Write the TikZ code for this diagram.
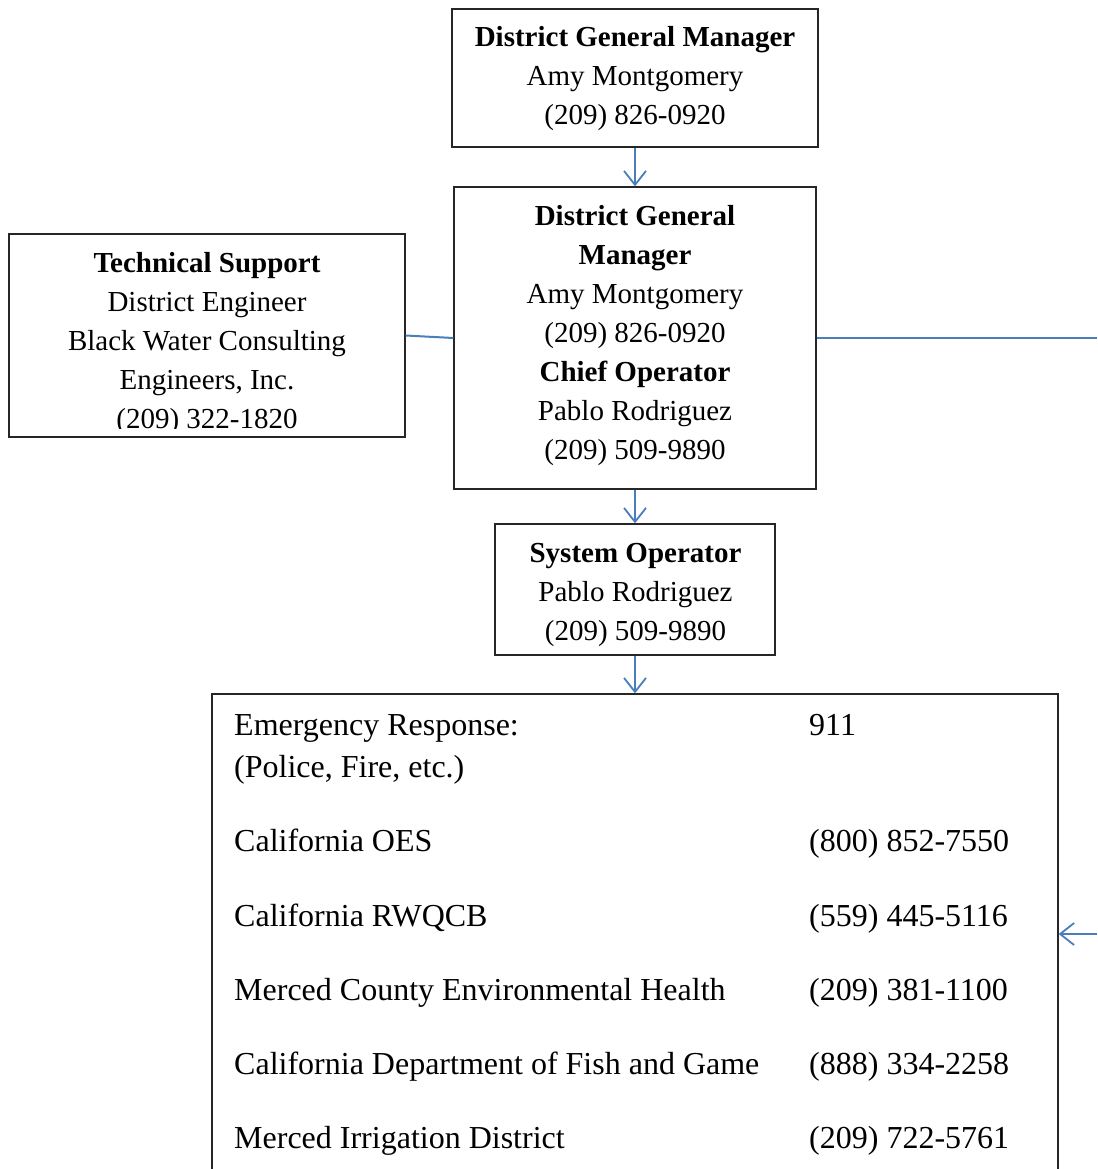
\documentclass[tikz,border=0pt]{standalone}
\usepackage{fontspec}
\setmainfont{Liberation Serif}
\usetikzlibrary{arrows.meta}
\definecolor{lineblue}{RGB}{74,126,187}
\begin{document}
\begin{tikzpicture}[x=1pt,y=-1pt,
  box/.style={draw=black!85,line width=1.3pt,rectangle,inner sep=0pt},
  txt/.style={align=center,inner sep=0pt,font=\fontsize{29}{39}\selectfont},
  ltxt/.style={anchor=base west,inner sep=0pt,font=\fontsize{32}{39}\selectfont},
  conn/.style={draw=lineblue,line width=2pt},
  arr/.style={conn,-{Straight Barb[length=14pt,width=22pt,line width=1.8pt]}}]
\useasboundingbox (0,0) rectangle (1097,1169);
\clip (0,0) rectangle (1097,1169);

% top box
\node[box,minimum width=366pt,minimum height=138pt] (b1) at (635,78) {};
\node[txt] (t1) at (635,79) {\textbf{District General Manager}\\Amy Montgomery\\(209) 826-0920};

% middle box
\node[box,minimum width=362pt,minimum height=302pt] (b2) at (635,338) {};
\node[txt] (t2) at (635,335.5) {\textbf{District General}\\\textbf{Manager}\\Amy Montgomery\\(209) 826-0920\\\textbf{Chief Operator}\\Pablo Rodriguez\\(209) 509-9890};

% technical support box
\node[box,minimum width=396pt,minimum height=203pt] (tech) at (207,335.5) {};
\begin{scope}
\clip (9,234) rectangle (405,428);
\node[txt] (t3) at (207,343.5) {\textbf{Technical Support}\\District Engineer\\Black Water Consulting\\Engineers, Inc.\\(209) 322-1820};
\end{scope}

% system operator box
\node[box,minimum width=280pt,minimum height=131pt] (b3) at (635,589.5) {};
\node[txt] (t4) at (635.5,594.5) {\textbf{System Operator}\\Pablo Rodriguez\\(209) 509-9890};

% bottom box
\node[box,minimum width=846pt,minimum height=560pt] (b4) at (635,974) {};
\node[ltxt] (l1) at (234,735) {Emergency Response:};
\node[ltxt] (l2) at (234,777) {(Police, Fire, etc.)};
\node[ltxt] (l3) at (234,851) {California OES};
\node[ltxt] (l4) at (234,926) {California RWQCB};
\node[ltxt] (l5) at (234,1000) {Merced County Environmental Health};
\node[ltxt] (l6) at (234,1074) {California Department of Fish and Game};
\node[ltxt] (l7) at (234,1148) {Merced Irrigation District};
\node[ltxt] (r1) at (809,735) {911};
\node[ltxt] (r3) at (809,851) {(800) 852-7550};
\node[ltxt] (r4) at (809,926) {(559) 445-5116};
\node[ltxt] (r5) at (809,1000) {(209) 381-1100};
\node[ltxt] (r6) at (809,1074) {(888) 334-2258};
\node[ltxt] (r7) at (809,1148) {(209) 722-5761};

% connectors
\coordinate (rout) at (1097,338);
\coordinate (rin) at (1097,934);
\draw[arr] (b1.south) -- (b2.north);
\draw[conn] (tech.east) -- (b2.west);
\draw[conn] (b2.east) -- (rout);
\draw[arr] (b2.south) -- (b3.north);
\draw[arr] (b3.south) -- (b4.north);
\draw[arr] (rin) -- (rin -| b4.east);
\end{tikzpicture}
\end{document}
